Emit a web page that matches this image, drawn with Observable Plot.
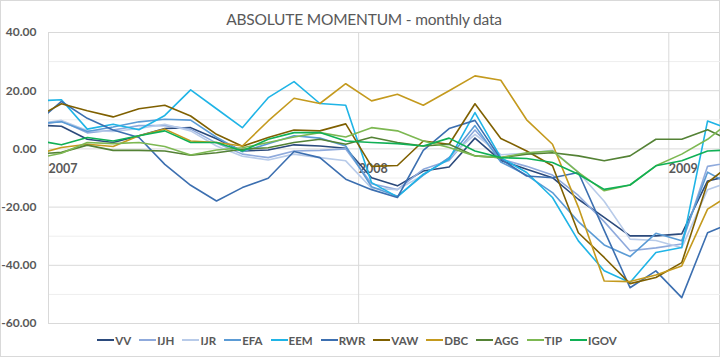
<!DOCTYPE html>
<html><head><meta charset="utf-8">
<script src="https://cdn.jsdelivr.net/npm/d3@7"></script>
<script src="https://cdn.jsdelivr.net/npm/@observablehq/plot@0.6"></script>
<style>
body{margin:0;background:#fff;font-family:Lato,"Open Sans",sans-serif;}
#chart{position:relative;width:720px;height:357px;overflow:hidden;background:#fff;}
#frame{position:absolute;left:0;top:0;width:720px;height:357px;box-sizing:border-box;border:1px solid #d9d9d9;}
#title{position:absolute;top:10px;left:0;width:728px;text-align:center;font-size:15.5px;color:#595959;letter-spacing:-0.2px;}
#plot{position:absolute;left:0;top:0;}
#legend{position:absolute;top:332px;left:0;width:714px;display:flex;justify-content:center;font-size:11.5px;font-weight:bold;color:#595959;}
.item{display:flex;align-items:center;margin:0 4px;height:16px;}
.item span{margin-left:1px;}
</style>
</head><body>
<div id="chart"><div id="frame"></div><div id="plot"></div><div id="title">ABSOLUTE MOMENTUM - monthly data</div><div id="legend"></div></div>
<script>
const months = ["2006-12","2007-01","2007-02","2007-03","2007-04","2007-05","2007-06","2007-07","2007-08","2007-09","2007-10","2007-11","2007-12","2008-01","2008-02","2008-03","2008-04","2008-05","2008-06","2008-07","2008-08","2008-09","2008-10","2008-11","2008-12","2009-01","2009-02","2009-03"];
const seriesNames = ["VV","IJH","IJR","EFA","EEM","RWR","VAW","DBC","AGG","TIP","IGOV"];
const colors = ["#2B4A7C","#8FAADC","#B8CBE9","#5B9BD5","#1FB4E6","#3C6FB0","#7F6000","#C49A1E","#548235","#7DB852","#10B055"];
const VV   = [8.2, 7.8,3.3,2.2,4.5,7.0,7.3,3.5,-0.7,-0.4,1.4,1.0,0.2, -9.9,-12.7,-7.6,-6.2,3.7,-4.0,-7.0,-9.9,-17.3,-23.5,-29.9,-29.9, -29.2,-11.0,-9.0];
const IJH  = [8.0, 9.6,5.5,6.5,8.0,8.0,6.8,2.0,-1.8,-3.0,-0.7,-0.5,0.0, -12.0,-14.0,-7.0,-4.0,6.5,-3.5,-6.0,-9.0,-16.0,-25.0,-35.0,-34.0, -32.7,-6.0,-4.5];
const IJR  = [8.6, 9.8,6.3,6.0,7.0,8.5,6.2,1.0,-2.5,-3.8,-1.8,-3.0,-4.1, -13.5,-14.0,-9.0,-3.0,5.0,-2.0,-1.5,-0.5,-8.0,-18.0,-31.0,-31.5, -34.0,-14.0,-11.0];
const EFA  = [8.7, 9.3,6.0,7.5,9.3,10.2,9.9,4.0,-1.0,1.8,4.5,3.7,1.0, -13.0,-16.3,-9.0,-3.0,8.0,-4.5,-9.0,-15.0,-25.0,-33.0,-37.0,-29.0, -31.6,-8.0,-12.8];
const EEM  = [16.5, 16.9,6.8,8.5,6.6,11.5,20.3,13.8,7.3,17.6,23.1,15.6,15.0, -11.6,-16.5,-8.7,-3.5,12.5,-3.0,-8.1,-16.7,-31.6,-41.9,-45.9,-35.6, -33.9,9.6,6.2];
const RWR  = [8.7, 16.3,10.5,6.5,3.9,-5.3,-12.5,-17.9,-13.3,-10.1,-0.9,-3.0,-10.4, -14.0,-16.7,-0.5,7.0,9.8,-3.5,-9.3,-9.9,-8.1,-28.0,-47.7,-41.9, -51.1,-28.8,-25.2];
const VAW  = [10.7, 15.5,13.1,11.0,13.8,15.0,11.3,5.0,0.9,3.9,6.5,6.2,8.6, -6.0,-5.7,2.7,1.6,15.5,3.6,-0.7,-5.8,-28.8,-37.3,-46.3,-44.2, -39.1,-11.6,-4.6];
const DBC  = [-1.9, 0.5,1.6,0.8,4.5,6.8,2.7,2.2,1.0,9.6,17.4,15.6,22.4, 16.5,18.8,15.0,20.0,25.1,23.6,10.0,1.6,-20.0,-45.4,-45.6,-43.3, -40.2,-20.7,-15.1];
const AGG  = [-1.8, -1.2,1.3,-0.5,-0.5,-0.7,-2.2,-1.3,-0.1,0.4,2.2,3.3,1.6, 4.0,2.2,1.0,1.6,-2.4,-3.0,-1.8,-1.3,-2.4,-4.1,-2.4,3.3, 3.3,6.6,2.4];
const TIP  = [-3.3, -1.5,2.2,1.8,2.2,0.8,-2.1,-0.4,0.4,2.2,4.1,5.6,4.1, 7.3,6.2,2.7,0.5,-2.4,-3.0,-1.3,-0.7,-8.1,-14.4,-12.4,-5.8, -1.8,3.3,10.3];
const IGOV = [3.0, 1.4,3.9,2.7,4.5,6.2,2.2,2.2,-0.7,3.3,5.6,5.6,2.7, 2.2,1.8,1.0,3.7,-0.7,-3.0,-3.3,-4.7,-8.7,-13.9,-12.4,-5.8, -4.1,-0.7,-0.3];
const yearLabels = ["2007","2008","2009"];
const yTicks = [-60,-40,-20,0,20,40];
const yMinor = [-50,-30,-10,10,30];

const seriesValues = [VV,IJH,IJR,EFA,EEM,RWR,VAW,DBC,AGG,TIP,IGOV];
// month position: months since Jan 2007, plotted at mid-month
const monthPos = m => { const [y, mo] = m.split("-").map(Number); return (y - 2007) * 12 + (mo - 1) + 0.5; };
const yearPos = y => (Number(y) - 2007) * 12;
const rows = [];
seriesNames.forEach((s, i) => months.forEach((m, j) => rows.push({s, x: monthPos(m), v: seriesValues[i][j]})));

const chart = Plot.plot({
  width: 720, height: 335,
  marginLeft: 48, marginRight: 0, marginTop: 32, marginBottom: 12,
  style: {fontFamily: "Lato, 'Open Sans', sans-serif", fontSize: "12px", fontWeight: "bold", color: "#595959", background: "transparent"},
  x: {domain: [0, 26], axis: null},
  y: {domain: [-60, 40], axis: null},
  color: {domain: seriesNames, range: colors},
  marks: [
    Plot.ruleY(yMinor, {stroke: "#eeeeee", strokeWidth: 1}),
    Plot.ruleY(yTicks, {stroke: "#d9d9d9", strokeWidth: 1}),
    Plot.ruleX(yearLabels, {x: yearPos, stroke: "#d9d9d9", strokeWidth: 1}),
    Plot.axisY(yTicks, {tickSize: 0, tickPadding: 12, tickFormat: d => d.toFixed(2), fontSize: 12, label: null}),
    Plot.text(yearLabels, {x: yearPos, y: 0, dy: 20, text: d => d, textAnchor: "start", fill: "#595959", fontSize: 12.5, fontWeight: "bold"}),
    Plot.line(rows, {x: "x", y: "v", z: "s", stroke: "s", strokeWidth: 1.6, clip: true})
  ]
});
document.getElementById("plot").appendChild(chart);

const legend = document.getElementById("legend");
seriesNames.forEach((s, i) => {
  const it = document.createElement("div");
  it.className = "item";
  it.innerHTML = `<svg width="17" height="10"><line x1="0" y1="5" x2="17" y2="5" stroke="${colors[i]}" stroke-width="2"/></svg><span>${s}</span>`;
  legend.appendChild(it);
});
</script>
</body></html>
